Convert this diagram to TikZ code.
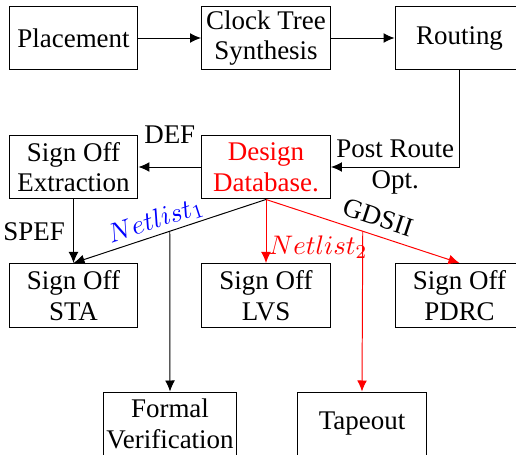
\documentclass[tikz,border=0pt]{standalone}
\usepackage{fontspec}
\setmainfont{Liberation Serif}
\usetikzlibrary{arrows.meta,calc}
\begin{document}
\begin{tikzpicture}[x=0.408pt,y=-0.408pt,
  box/.style={draw, minimum width=52.6pt, minimum height=26.1pt, inner sep=1pt, align=center,
    font=\fontsize{11}{12.5}\selectfont},
  lab/.style={font=\fontsize{11}{12.5}\selectfont, align=center},
  arr/.style={-{Latex[length=4.5pt,width=4pt]}}]
\clip (0,0) rectangle (516,454);
\node[box] (pl) at (73.5,38) {Placement};
\node[box] (ct) at (266,38) {Clock Tree\\Synthesis};
\node[box] (ro) at (459.5,38) {Routing};
\node[box] (soe) at (73.5,167) {Sign Off\\Extraction};
\node[box, text=red] (dd) at (266,167) {Design\\Database.};
\node[box] (sta) at (73.5,295.5) {Sign Off\\STA};
\node[box] (lvs) at (266,295.5) {Sign Off\\LVS};
\node[box] (pdrc) at (459.5,295.5) {Sign Off\\PDRC};
\node[box] (fv) at (170,424) {Formal\\Verification};
\node[box] (tp) at (362,424) {Tapeout};
\draw[arr] (pl) -- (ct);
\draw[arr] (ct) -- (ro);
\draw[arr] (ro.south) |- node[lab, pos=0.75] {Post Route\\Opt.} (dd.east);
\draw[arr] (dd) -- node[lab, midway, yshift=13pt] {DEF} (soe);
\draw[arr] (soe) -- node[lab, midway, left] {SPEF} (sta);
\draw[arr] (dd.south) -- node[lab, pos=0.55, sloped, above, inner sep=1pt, text=blue] {$Netlist_1$} (sta.north);
\draw[arr, red] (dd.south) -- node[lab, pos=0.75, right, inner sep=1pt] {$Netlist_2$} (lvs.north);
\draw[arr, red] (dd.south) -- node[lab, pos=0.55, sloped, above, text=black] {GDSII} (pdrc.north);
\coordinate (j1) at ($(dd.south)!0.5!(sta.north)$);
\coordinate (j2) at ($(dd.south)!0.5!(pdrc.north)$);
\draw[arr] (j1) -- (fv.north);
\draw[arr, red] (j2) -- (tp.north);
\end{tikzpicture}
\end{document}
